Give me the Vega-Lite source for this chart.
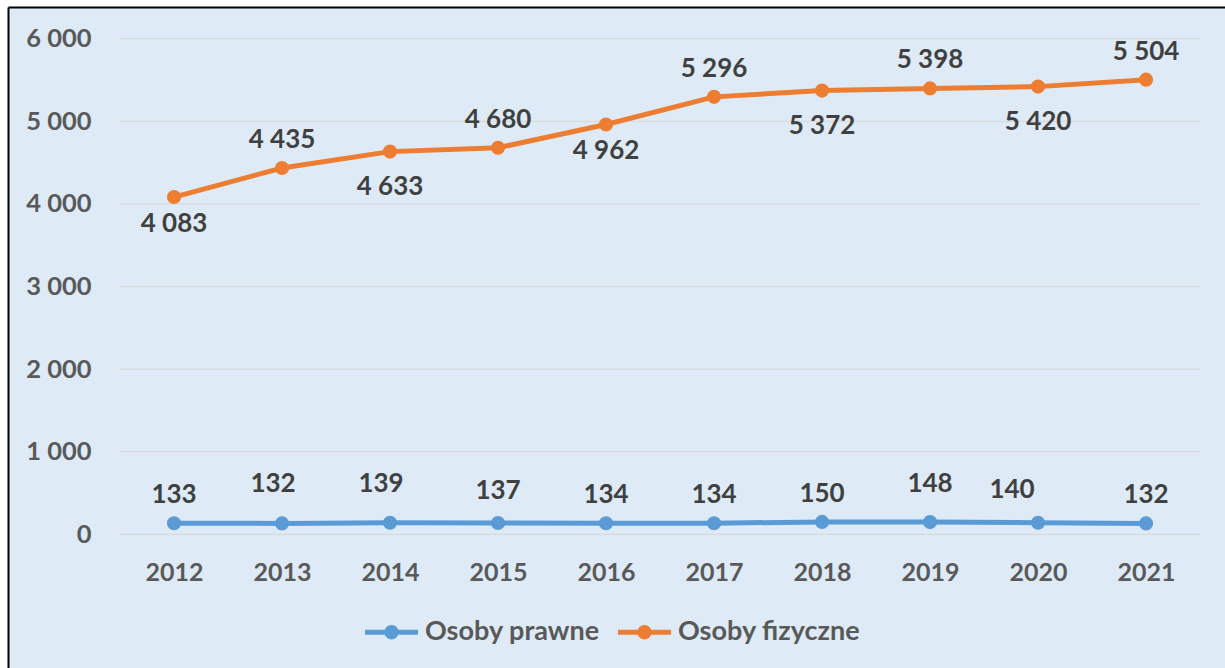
{
  "$schema": "https://vega.github.io/schema/vega-lite/v6.json",
  "width": 1217,
  "height": 661,
  "autosize": {"type": "none"},
  "padding": {"left": 8, "top": 7, "right": 0, "bottom": 0},
  "background": "#ffffff",
  "config": {
    "locale": {"number": {"decimal": ",", "thousands": " ", "grouping": [3], "currency": ["", " zł"]}},
    "view": {"fill": "#DEEBF7", "stroke": null},
    "font": "Lato",
    "text": {"font": "Lato", "fontSize": 26, "fontWeight": "bold", "color": "#404040", "baseline": "middle", "align": "center"}
  },
  "datasets": {
    "main": [
      {"rok": 2012, "seria": "Osoby prawne", "wartosc": 133},
      {"rok": 2013, "seria": "Osoby prawne", "wartosc": 132},
      {"rok": 2014, "seria": "Osoby prawne", "wartosc": 139},
      {"rok": 2015, "seria": "Osoby prawne", "wartosc": 137},
      {"rok": 2016, "seria": "Osoby prawne", "wartosc": 134},
      {"rok": 2017, "seria": "Osoby prawne", "wartosc": 134},
      {"rok": 2018, "seria": "Osoby prawne", "wartosc": 150},
      {"rok": 2019, "seria": "Osoby prawne", "wartosc": 148},
      {"rok": 2020, "seria": "Osoby prawne", "wartosc": 140},
      {"rok": 2021, "seria": "Osoby prawne", "wartosc": 132},
      {"rok": 2012, "seria": "Osoby fizyczne", "wartosc": 4083},
      {"rok": 2013, "seria": "Osoby fizyczne", "wartosc": 4435},
      {"rok": 2014, "seria": "Osoby fizyczne", "wartosc": 4633},
      {"rok": 2015, "seria": "Osoby fizyczne", "wartosc": 4680},
      {"rok": 2016, "seria": "Osoby fizyczne", "wartosc": 4962},
      {"rok": 2017, "seria": "Osoby fizyczne", "wartosc": 5296},
      {"rok": 2018, "seria": "Osoby fizyczne", "wartosc": 5372},
      {"rok": 2019, "seria": "Osoby fizyczne", "wartosc": 5398},
      {"rok": 2020, "seria": "Osoby fizyczne", "wartosc": 5420},
      {"rok": 2021, "seria": "Osoby fizyczne", "wartosc": 5504}
    ],
    "grid": [{"v": 0}, {"v": 1000}, {"v": 2000}, {"v": 3000}, {"v": 4000}, {"v": 5000}, {"v": 6000}]
  },
  "data": {"name": "main"},
  "layer": [
    {
      "data": {"name": "grid"},
      "mark": {"type": "rule", "color": "#D9D9D9", "strokeWidth": 1.3},
      "encoding": {
        "y": {"field": "v", "type": "quantitative", "scale": {"domain": [-1619, 6384], "nice": false, "zero": false},
          "axis": {"orient": "left", "offset": 0, "domain": true, "domainColor": "#000000", "domainWidth": 2, "labels": false, "ticks": false, "grid": false, "title": null}},
        "x": {"datum": 2011.5, "type": "quantitative", "scale": {"domain": [2010.463, 2021.731], "nice": false, "zero": false},
          "axis": {"orient": "top", "offset": 0, "domain": true, "domainColor": "#000000", "domainWidth": 2, "labels": false, "ticks": false, "grid": false, "title": null}},
        "x2": {"datum": 2021.5}
      }
    },
    {
      "mark": {"type": "line", "strokeWidth": 5, "point": {"filled": true, "size": 200}},
      "encoding": {
        "x": {"field": "rok", "type": "quantitative", "scale": {"domain": [2010.463, 2021.731], "nice": false, "zero": false},
          "axis": {"orient": "bottom", "offset": -88, "domain": false, "ticks": false, "tickSize": 0, "grid": false, "values": [2012, 2013, 2014, 2015, 2016, 2017, 2018, 2019, 2020, 2021], "format": "d", "labelFont": "Lato", "labelFontSize": 25, "labelFontWeight": "bold", "labelColor": "#595959", "labelBaseline": "alphabetic", "labelPadding": 0, "labelFlush": false, "labelOverlap": false, "title": null}},
        "y": {"field": "wartosc", "type": "quantitative", "scale": {"domain": [-1619, 6384], "nice": false, "zero": false},
          "axis": {"orient": "left", "offset": -85, "domain": false, "ticks": false, "tickSize": 0, "grid": false, "values": [0, 1000, 2000, 3000, 4000, 5000, 6000], "format": ",d", "labelFont": "Lato", "labelFontSize": 25.5, "labelFontWeight": "bold", "labelColor": "#595959", "labelPadding": 2, "labelFlush": false, "labelOverlap": false, "title": null}},
        "color": {"field": "seria", "type": "nominal", "scale": {"domain": ["Osoby prawne", "Osoby fizyczne"], "range": ["#5B9BD5", "#ED7D31"]},
          "legend": {"orient": "none", "legendX": 357, "legendY": 598.5, "direction": "horizontal", "title": null,
            "symbolType": "M-1,-0.095L1,-0.095L1,0.095L-1,0.095Z M0.27,0A0.27,0.27,0,1,1,-0.27,0A0.27,0.27,0,1,1,0.27,0Z",
            "symbolSize": 2809, "symbolStrokeWidth": 0, "labelFont": "Lato", "labelFontSize": 27, "labelFontWeight": "bold", "labelColor": "#595959", "labelOffset": 7, "labelLimit": 0, "columnPadding": 18, "padding": 0,
            "encode": {"symbols": {"update": {"fill": {"scale": "color", "field": "value"}, "opacity": {"value": 1}}}}}}
      }
    },
    {
      "transform": [{"filter": {"and": [{"field": "seria", "equal": "Osoby fizyczne"}, {"field": "rok", "oneOf": [2013, 2015, 2017, 2019, 2021]}]}}],
      "mark": {"type": "text", "dy": -28},
      "encoding": {
        "x": {"field": "rok", "type": "quantitative", "scale": {"domain": [2010.463, 2021.731], "nice": false, "zero": false}, "axis": null},
        "y": {"field": "wartosc", "type": "quantitative", "scale": {"domain": [-1619, 6384], "nice": false, "zero": false}, "axis": null},
        "text": {"field": "wartosc", "type": "quantitative", "format": ",d"}
      }
    },
    {
      "transform": [{"filter": {"and": [{"field": "seria", "equal": "Osoby fizyczne"}, {"field": "rok", "oneOf": [2012, 2016]}]}}],
      "mark": {"type": "text", "dy": 27},
      "encoding": {
        "x": {"field": "rok", "type": "quantitative", "scale": {"domain": [2010.463, 2021.731], "nice": false, "zero": false}, "axis": null},
        "y": {"field": "wartosc", "type": "quantitative", "scale": {"domain": [-1619, 6384], "nice": false, "zero": false}, "axis": null},
        "text": {"field": "wartosc", "type": "quantitative", "format": ",d"}
      }
    },
    {
      "transform": [{"filter": {"and": [{"field": "seria", "equal": "Osoby fizyczne"}, {"field": "rok", "oneOf": [2014, 2018, 2020]}]}}],
      "mark": {"type": "text", "dy": 35},
      "encoding": {
        "x": {"field": "rok", "type": "quantitative", "scale": {"domain": [2010.463, 2021.731], "nice": false, "zero": false}, "axis": null},
        "y": {"field": "wartosc", "type": "quantitative", "scale": {"domain": [-1619, 6384], "nice": false, "zero": false}, "axis": null},
        "text": {"field": "wartosc", "type": "quantitative", "format": ",d"}
      }
    },
    {
      "transform": [{"filter": {"and": [{"field": "seria", "equal": "Osoby prawne"}, {"field": "rok", "oneOf": [2012, 2016, 2017, 2018, 2021]}]}}],
      "mark": {"type": "text", "dy": -28},
      "encoding": {
        "x": {"field": "rok", "type": "quantitative", "scale": {"domain": [2010.463, 2021.731], "nice": false, "zero": false}, "axis": null},
        "y": {"field": "wartosc", "type": "quantitative", "scale": {"domain": [-1619, 6384], "nice": false, "zero": false}, "axis": null},
        "text": {"field": "wartosc", "type": "quantitative", "format": ",d"}
      }
    },
    {
      "transform": [{"filter": {"and": [{"field": "seria", "equal": "Osoby prawne"}, {"field": "rok", "oneOf": [2013, 2014]}]}}],
      "mark": {"type": "text", "dy": -39, "dx": -9},
      "encoding": {
        "x": {"field": "rok", "type": "quantitative", "scale": {"domain": [2010.463, 2021.731], "nice": false, "zero": false}, "axis": null},
        "y": {"field": "wartosc", "type": "quantitative", "scale": {"domain": [-1619, 6384], "nice": false, "zero": false}, "axis": null},
        "text": {"field": "wartosc", "type": "quantitative", "format": ",d"}
      }
    },
    {
      "transform": [{"filter": {"and": [{"field": "seria", "equal": "Osoby prawne"}, {"field": "rok", "oneOf": [2019]}]}}],
      "mark": {"type": "text", "dy": -38},
      "encoding": {
        "x": {"field": "rok", "type": "quantitative", "scale": {"domain": [2010.463, 2021.731], "nice": false, "zero": false}, "axis": null},
        "y": {"field": "wartosc", "type": "quantitative", "scale": {"domain": [-1619, 6384], "nice": false, "zero": false}, "axis": null},
        "text": {"field": "wartosc", "type": "quantitative", "format": ",d"}
      }
    },
    {
      "transform": [{"filter": {"and": [{"field": "seria", "equal": "Osoby prawne"}, {"field": "rok", "oneOf": [2015]}]}}],
      "mark": {"type": "text", "dy": -32},
      "encoding": {
        "x": {"field": "rok", "type": "quantitative", "scale": {"domain": [2010.463, 2021.731], "nice": false, "zero": false}, "axis": null},
        "y": {"field": "wartosc", "type": "quantitative", "scale": {"domain": [-1619, 6384], "nice": false, "zero": false}, "axis": null},
        "text": {"field": "wartosc", "type": "quantitative", "format": ",d"}
      }
    },
    {
      "transform": [{"filter": {"and": [{"field": "seria", "equal": "Osoby prawne"}, {"field": "rok", "oneOf": [2020]}]}}],
      "mark": {"type": "text", "dy": -33, "dx": -26},
      "encoding": {
        "x": {"field": "rok", "type": "quantitative", "scale": {"domain": [2010.463, 2021.731], "nice": false, "zero": false}, "axis": null},
        "y": {"field": "wartosc", "type": "quantitative", "scale": {"domain": [-1619, 6384], "nice": false, "zero": false}, "axis": null},
        "text": {"field": "wartosc", "type": "quantitative", "format": ",d"}
      }
    }
  ],
  "resolve": {"axis": {"x": "independent", "y": "independent"}}
}
